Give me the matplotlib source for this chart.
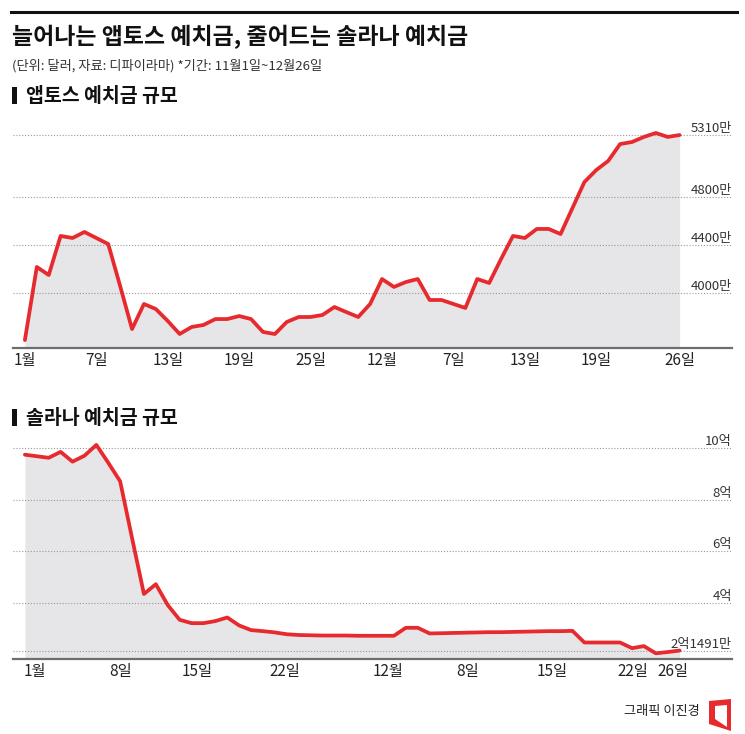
import numpy as np
import matplotlib
matplotlib.use("Agg")
import matplotlib.pyplot as plt
from matplotlib.lines import Line2D
from matplotlib.patches import Rectangle, Polygon

plt.rcParams['font.family'] = ['Noto Sans CJK KR', 'DejaVu Sans']

# 11월1일 ~ 12월26일, daily
days = np.arange(56)

# 앱토스 예치금 (만 달러)
aptos = [3610, 4216, 4149, 4473, 4456, 4506, 4456, 4406, 4058, 3701,
         3909, 3867, 3768, 3660, 3718, 3735, 3784, 3784, 3809, 3784,
         3677, 3660, 3760, 3801, 3801, 3818, 3884, 3842, 3801, 3909,
         4116, 4050, 4091, 4116, 3942, 3942, 3909, 3876, 4116, 4083,
         4282, 4473, 4456, 4531, 4531, 4489, 4705, 4920, 5020, 5095,
         5235, 5252, 5294, 5327, 5294, 5310]

# 솔라나 예치금 (억 달러)
solana = [9.74, 9.68, 9.62, 9.85, 9.47, 9.70, 10.12, 9.43, 8.71, 6.51,
          4.34, 4.72, 3.91, 3.34, 3.21, 3.21, 3.29, 3.43, 3.12, 2.94,
          2.90, 2.85, 2.78, 2.75, 2.74, 2.73, 2.73, 2.73, 2.72, 2.72,
          2.72, 2.72, 3.03, 3.03, 2.81, 2.82, 2.83, 2.84, 2.85, 2.86,
          2.86, 2.87, 2.88, 2.89, 2.90, 2.90, 2.91, 2.46, 2.46, 2.46,
          2.46, 2.24, 2.32, 2.04, 2.09, 2.1491]

aptos_grid = [4000, 4400, 4800, 5310]
aptos_grid_labels = ['4000만', '4400만', '4800만', '5310만']
solana_grid = [2.1491, 4, 6, 8, 10]
solana_grid_labels = ['2억1491만', '4억', '6억', '8억', '10억']

top_ticks = [0, 6, 12, 18, 24, 30, 36, 42, 48, 55]
top_tick_labels = ['1월', '7일', '13일', '19일', '25일', '12월', '7일', '13일', '19일', '26일']
bot_ticks = [0.8, 8, 14.5, 21.8, 30.5, 37.2, 44.3, 51.1, 54.4]
bot_tick_labels = ['1월', '8일', '15일', '22일', '12월', '8일', '15일', '22일', '26일']

W, H = 745, 734
RED = '#e62a2e'
FILL = '#e6e6e8'

fig = plt.figure(figsize=(W / 100, H / 100), dpi=100)
fig.patch.set_facecolor('white')


def fx(x):
    return x / W


def fy(y):
    return 1 - y / H


def make_axes(top, bottom, ymin, ymax, values, grid, grid_labels, ticks, tick_labels):
    ax = fig.add_axes([fx(13), fy(bottom), fx(732) - fx(13), fy(top) - fy(bottom)])
    ax.set_xlim(-1.0, 59.4)
    ax.set_ylim(ymin, ymax)
    ax.fill_between(days, values, ymin, color=FILL, lw=0, zorder=1)
    for g, lab in zip(grid, grid_labels):
        ax.axhline(g, color='#9a9a9a', lw=0.8, ls=(0, (1, 1.6)), zorder=2)
        ax.text(1.0, g, lab, transform=ax.get_yaxis_transform(), ha='right', va='bottom',
                fontsize=9.5, color='#333333')
    ax.plot(days, values, color=RED, lw=2.7, solid_joinstyle='round',
            solid_capstyle='round', zorder=3, clip_on=False)
    for s in ['top', 'left', 'right']:
        ax.spines[s].set_visible(False)
    ax.spines['bottom'].set_color('#6e6e6e')
    ax.spines['bottom'].set_linewidth(1.6)
    ax.spines['bottom'].set_zorder(4)
    ax.set_yticks([])
    ax.set_xticks(ticks)
    ax.set_xticklabels(tick_labels, fontsize=11, color='#222222')
    ax.tick_params(axis='x', length=0, pad=3)
    ax.set_facecolor('none')
    return ax


# top chart: y=125..348 px
make_axes(125, 348, 3544, 5393, aptos, aptos_grid, aptos_grid_labels, top_ticks, top_tick_labels)
# bottom chart: y=440..659 px
make_axes(440, 659, 1.82, 10.31, solana, solana_grid, solana_grid_labels, bot_ticks, bot_tick_labels)

# header
fig.add_artist(Line2D([fx(11), fx(737)], [fy(12), fy(12)], color='#111111', lw=2.2))
fig.text(fx(12), fy(37), '늘어나는 앱토스 예치금, 줄어드는 솔라나 예치금', fontsize=16.5,
         fontweight='bold', color='#111111', va='center', ha='left')
fig.text(fx(12), fy(66), '(단위: 달러, 자료: 디파이라마) *기간: 11월1일~12월26일', fontsize=9.5,
         color='#333333', va='center', ha='left')

# section titles
for yc, title in [(96, '앱토스 예치금 규모'), (418, '솔라나 예치금 규모')]:
    fig.add_artist(Rectangle((fx(12), fy(yc + 8)), fx(5), 17 / H, color='#111111', lw=0))
    fig.text(fx(26), fy(yc), title, fontsize=14, fontweight='bold', color='#111111',
             va='center', ha='left')

# footer
fig.text(fx(700), fy(712), '그래픽 이진경', fontsize=9.5, color='#222222', va='center', ha='right')
outer = [(709, 701), (731, 699), (731, 731), (709, 724)]
inner = [(715, 706), (727, 705), (727, 727), (715, 719)]
fig.add_artist(Polygon([(fx(x), fy(y)) for x, y in outer], closed=True, color=RED, lw=0))
fig.add_artist(Polygon([(fx(x), fy(y)) for x, y in inner], closed=True, color='white', lw=0))

fig.savefig('out.png', dpi=100)
